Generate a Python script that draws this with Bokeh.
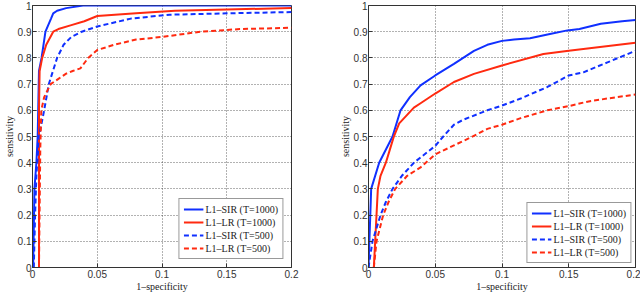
from bokeh.plotting import figure
from bokeh.layouts import row
from bokeh.models import FixedTicker, Legend, LegendItem
from bokeh.embed import file_html
from bokeh.resources import INLINE

# ---- data: left panel ----
left_sir1000_x = [0.0005, 0.0015, 0.003, 0.004, 0.005, 0.007, 0.01, 0.0143, 0.016, 0.019, 0.026, 0.039, 0.2]
left_sir1000_y = [0.0, 0.3, 0.4, 0.5, 0.75, 0.8, 0.9, 0.95, 0.97, 0.98, 0.99, 1.0, 1.0]
left_lr1000_x = [0.005, 0.005, 0.0055, 0.0075, 0.0106, 0.016, 0.02, 0.03, 0.04, 0.05, 0.08, 0.11, 0.15, 0.2]
left_lr1000_y = [0.0, 0.6, 0.75, 0.8, 0.85, 0.9, 0.91, 0.925, 0.94, 0.96, 0.97, 0.98, 0.985, 0.99]
left_sir500_x = [0.001, 0.002, 0.003, 0.005, 0.009, 0.0126, 0.019, 0.024, 0.03, 0.038, 0.05, 0.076, 0.106, 0.15, 0.2]
left_sir500_y = [0.0, 0.2, 0.35, 0.5, 0.6, 0.7, 0.8, 0.85, 0.88, 0.9, 0.92, 0.95, 0.965, 0.97, 0.975]
left_lr500_x = [0.005, 0.006, 0.0068, 0.009, 0.014, 0.02, 0.026, 0.031, 0.037, 0.043, 0.05, 0.063, 0.08, 0.1, 0.13, 0.16, 0.2]
left_lr500_y = [0.0, 0.45, 0.6, 0.65, 0.7, 0.72, 0.74, 0.75, 0.76, 0.8, 0.83, 0.85, 0.87, 0.88, 0.9, 0.91, 0.915]

# ---- data: right panel ----
right_sir1000_x = [0.0, 0.002, 0.008, 0.018, 0.024, 0.031, 0.039, 0.05, 0.064, 0.079, 0.089, 0.1, 0.109, 0.121, 0.135, 0.149, 0.158, 0.174, 0.19, 0.2]
right_sir1000_y = [0.0, 0.3, 0.4, 0.5, 0.6, 0.65, 0.695, 0.733, 0.777, 0.827, 0.85, 0.865, 0.87, 0.875, 0.89, 0.905, 0.91, 0.93, 0.94, 0.945]
right_lr1000_x = [0.004, 0.005, 0.007, 0.009, 0.013, 0.016, 0.019, 0.023, 0.034, 0.039, 0.05, 0.064, 0.079, 0.1, 0.131, 0.15, 0.2]
right_lr1000_y = [0.0, 0.1, 0.3, 0.35, 0.4, 0.45, 0.5, 0.55, 0.61, 0.627, 0.664, 0.708, 0.739, 0.771, 0.815, 0.827, 0.858]
right_sir500_x = [0.0, 0.003, 0.009, 0.013, 0.018, 0.025, 0.034, 0.05, 0.056, 0.064, 0.071, 0.089, 0.1, 0.114, 0.134, 0.15, 0.161, 0.179, 0.2]
right_sir500_y = [0.0, 0.1, 0.2, 0.25, 0.3, 0.35, 0.4, 0.464, 0.5, 0.545, 0.564, 0.6, 0.618, 0.645, 0.689, 0.733, 0.745, 0.783, 0.827]
right_lr500_x = [0.004, 0.006, 0.011, 0.015, 0.02, 0.029, 0.039, 0.05, 0.064, 0.076, 0.089, 0.1, 0.114, 0.134, 0.15, 0.164, 0.179, 0.2]
right_lr500_y = [0.0, 0.1, 0.2, 0.25, 0.3, 0.35, 0.382, 0.432, 0.466, 0.495, 0.529, 0.545, 0.57, 0.6, 0.616, 0.633, 0.645, 0.66]

x_ticks = [0, 0.05, 0.1, 0.15, 0.2]
x_tick_labels = ["0", "0.05", "0.1", "0.15", "0.2"]
y_ticks = [0, 0.1, 0.2, 0.3, 0.4, 0.5, 0.6, 0.7, 0.8, 0.9, 1.0]
y_tick_labels = ["0", "0.1", "0.2", "0.3", "0.4", "0.5", "0.6", "0.7", "0.8", "0.9", "1"]

legend_labels = ["L1–SIR (T=1000)", "L1–LR (T=1000)", "L1–SIR (T=500)", "L1–LR (T=500)"]
BLUE = "#1030ff"
RED = "#ff2a10"


def make_panel(width, border_left, border_right, leg_margin, series):
    p = figure(width=width, height=294, output_backend="svg", toolbar_location=None,
               x_range=(0, 0.2), y_range=(0, 1),
               min_border_left=border_left, min_border_right=border_right,
               min_border_top=5, min_border_bottom=10)
    p.background_fill_color = "white"
    p.border_fill_color = "white"
    p.outline_line_color = "#333333"
    p.outline_line_width = 1

    p.xaxis.ticker = FixedTicker(ticks=x_ticks)
    p.xaxis.major_label_overrides = {t: l for t, l in zip(x_ticks, x_tick_labels)}
    p.yaxis.ticker = FixedTicker(ticks=y_ticks)
    p.yaxis.major_label_overrides = {t: l for t, l in zip(y_ticks, y_tick_labels)}

    for ax in (p.xaxis, p.yaxis):
        ax.axis_line_color = "#333333"
        ax.major_tick_line_color = "#333333"
        ax.major_tick_in = 4
        ax.major_tick_out = 0
        ax.minor_tick_line_color = None
        ax.major_label_text_font = "Liberation Sans"
        ax.major_label_text_font_size = "10px"
        ax.major_label_text_color = "#333333"
        ax.major_label_standoff = 2
        ax.axis_label_text_font = "Liberation Serif"
        ax.axis_label_text_font_size = "10px"
        ax.axis_label_text_font_style = "normal"
        ax.axis_label_text_color = "#222222"
        ax.axis_label_standoff = 0
    p.yaxis.major_label_standoff = 1
    p.xaxis.axis_label = "1–specificity"
    p.yaxis.axis_label = "sensitivity"

    p.grid.grid_line_color = "#222222"
    p.grid.grid_line_alpha = 0.7
    p.grid.grid_line_dash = "1 2"
    p.xgrid.ticker = FixedTicker(ticks=x_ticks)
    p.ygrid.ticker = FixedTicker(ticks=y_ticks)

    styles = [(BLUE, "solid"), (RED, "solid"), (BLUE, "5 3"), (RED, "5 3")]
    items = []
    for (xs, ys), (col, dash), lab in zip(series, styles, legend_labels):
        r = p.line(xs, ys, line_color=col, line_width=2, line_dash=dash)
        items.append(LegendItem(label=lab, renderers=[r]))

    leg = Legend(items=items, location="bottom_right")
    leg.label_text_font = "Liberation Serif"
    leg.label_text_font_size = "10px"
    leg.label_text_color = "#222222"
    leg.glyph_width = 20
    leg.glyph_height = 12
    leg.label_height = 12
    leg.spacing = 1
    leg.padding = 4
    leg.margin = leg_margin
    leg.label_standoff = 2
    leg.border_line_color = "#333333"
    leg.border_line_width = 1
    leg.background_fill_color = "white"
    leg.background_fill_alpha = 1
    p.add_layout(leg)
    return p


left = make_panel(310, 26, 19, 8, [
    (left_sir1000_x, left_sir1000_y),
    (left_lr1000_x, left_lr1000_y),
    (left_sir500_x, left_sir500_y),
    (left_lr500_x, left_lr500_y),
])
right = make_panel(330, 58, 5, 4, [
    (right_sir1000_x, right_sir1000_y),
    (right_lr1000_x, right_lr1000_y),
    (right_sir500_x, right_sir500_y),
    (right_lr500_x, right_lr500_y),
])

layout = row(left, right)
open("out.html", "w").write(file_html(layout, INLINE))
